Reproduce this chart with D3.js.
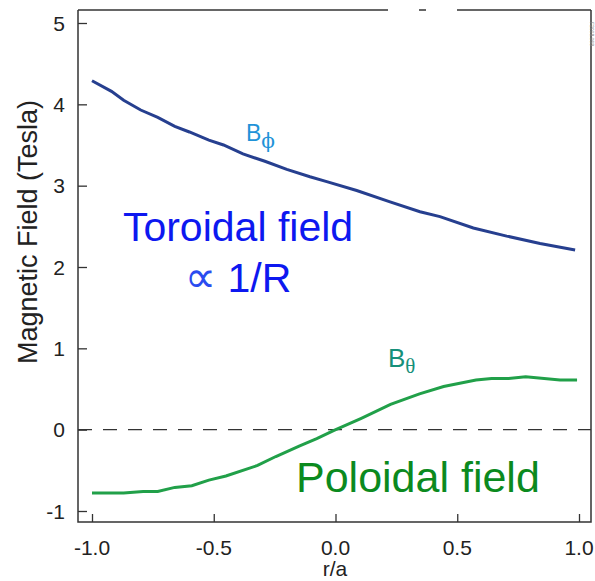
<!DOCTYPE html>
<html>
<head>
<meta charset="utf-8">
<script src="https://cdn.jsdelivr.net/npm/d3@7"></script>
<style>
  body { margin: 0; background: #fff; }
  text { font-family: "Liberation Sans", Arial, sans-serif; }
</style>
</head>
<body>
<div id="chart"></div>
<script>
// values
let rPhi = [-1.0, -0.92, -0.87, -0.80, -0.73, -0.66, -0.60, -0.52, -0.46, -0.38, -0.29, -0.20, -0.105, -0.036, 0.087, 0.224, 0.347, 0.429, 0.566, 0.703, 0.840, 0.984];
let bPhi = [4.29, 4.16, 4.05, 3.93, 3.84, 3.73, 3.66, 3.56, 3.50, 3.39, 3.30, 3.20, 3.11, 3.05, 2.94, 2.80, 2.68, 2.62, 2.48, 2.38, 2.29, 2.21];

let rTheta = [-1.0, -0.87, -0.79, -0.73, -0.66, -0.59, -0.52, -0.45, -0.32, -0.245, -0.147, -0.077, -0.006, 0.106, 0.226, 0.345, 0.444, 0.577, 0.641, 0.711, 0.781, 0.922, 0.992];
let bTheta = [-0.78, -0.78, -0.76, -0.76, -0.71, -0.69, -0.62, -0.57, -0.44, -0.33, -0.20, -0.11, -0.01, 0.14, 0.31, 0.44, 0.53, 0.61, 0.63, 0.63, 0.65, 0.61, 0.61];

let xTicks = [-1.0, -0.5, 0.0, 0.5, 1.0];
let yTicks = [-1, 0, 1, 2, 3, 4, 5];

let width = 595, height = 581;
let frame = { left: 78, right: 591, top: 10, bottom: 522 };

let svg = d3.select("#chart")
    .append("svg")
    .attr("width", width)
    .attr("height", height);

let x = d3.scaleLinear().domain([-1, 1]).range([92, 579]);
let y = d3.scaleLinear().domain([-1, 5]).range([511, 23]);

// dashed zero line
svg.append("line")
    .attr("x1", frame.left).attr("x2", frame.right)
    .attr("y1", y(0)).attr("y2", y(0))
    .attr("stroke", "#333").attr("stroke-width", 1.3)
    .attr("stroke-dasharray", "14,11");

// y axis (ticks inside the frame)
let yAxis = svg.append("g")
    .attr("transform", "translate(" + frame.left + ",0)")
    .call(d3.axisRight(y).tickValues(yTicks).tickSize(9).tickFormat(""));
yAxis.select(".domain").remove();
yAxis.selectAll(".tick line").attr("stroke", "#333").attr("stroke-width", 1.3);

svg.selectAll(".ylab")
    .data(yTicks)
    .enter().append("text")
    .attr("class", "ylab")
    .attr("x", 65)
    .attr("y", d => y(d))
    .attr("dy", "0.36em")
    .attr("text-anchor", "end")
    .attr("font-size", 21)
    .attr("fill", "#222")
    .text(d => d < 0 ? "-" + Math.abs(d) : d);

// x axis (ticks pointing up)
let xAxis = svg.append("g")
    .attr("transform", "translate(0," + frame.bottom + ")")
    .call(d3.axisTop(x).tickValues(xTicks).tickSize(8).tickFormat(""));
xAxis.select(".domain").remove();
xAxis.selectAll(".tick line").attr("stroke", "#333").attr("stroke-width", 1.3);

svg.selectAll(".xlab")
    .data(xTicks)
    .enter().append("text")
    .attr("class", "xlab")
    .attr("x", d => x(d))
    .attr("y", 555)
    .attr("text-anchor", "middle")
    .attr("font-size", 21)
    .attr("fill", "#222")
    .text(d => d < 0 ? "-" + Math.abs(d).toFixed(1) : d.toFixed(1));

// frame: left, bottom, right, and a broken top edge
let frameColor = "#333";
svg.append("path")
    .attr("d", "M" + frame.left + "," + frame.top + "V" + frame.bottom + "H" + frame.right + "V" + frame.top)
    .attr("fill", "none").attr("stroke", frameColor).attr("stroke-width", 1.5);
[[frame.left, 388], [419, 426], [457, frame.right]].forEach(function(s) {
    svg.append("line")
        .attr("x1", s[0]).attr("x2", s[1])
        .attr("y1", frame.top).attr("y2", frame.top)
        .attr("stroke", frameColor).attr("stroke-width", 1.5);
});

// axis titles
svg.append("text")
    .attr("x", 335).attr("y", 576)
    .attr("text-anchor", "middle")
    .attr("font-size", 21)
    .attr("fill", "#222")
    .text("r/a");

svg.append("text")
    .attr("transform", "translate(37,232) rotate(-90)")
    .attr("text-anchor", "middle")
    .attr("font-size", 27)
    .attr("fill", "#222")
    .text("Magnetic Field (Tesla)");

// tiny rotated stamp on the right edge
svg.append("text")
    .attr("transform", "translate(590,22) rotate(90)")
    .attr("font-size", 5)
    .attr("fill", "#888")
    .text("F2008.068");

// data lines
let line = d3.line()
    .x(d => x(d[0]))
    .y(d => y(d[1]));

svg.append("path")
    .datum(d3.zip(rPhi, bPhi))
    .attr("d", line)
    .attr("fill", "none")
    .attr("stroke", "#263f8f")
    .attr("stroke-width", 3);

svg.append("path")
    .datum(d3.zip(rTheta, bTheta))
    .attr("d", line)
    .attr("fill", "none")
    .attr("stroke", "#21a049")
    .attr("stroke-width", 3);

// curve labels
let phiLab = svg.append("text")
    .attr("x", 246).attr("y", 141)
    .attr("font-size", 23)
    .attr("fill", "#1f93d8");
phiLab.append("tspan").text("B");
phiLab.append("tspan")
    .attr("dy", 7).attr("font-size", 20)
    .attr("font-family", "'DejaVu Serif', serif")
    .text("\u03d5");

let thetaLab = svg.append("text")
    .attr("x", 388).attr("y", 367)
    .attr("font-size", 26)
    .attr("fill", "#16907a");
thetaLab.append("tspan").text("B");
thetaLab.append("tspan")
    .attr("dy", 6).attr("font-size", 21)
    .attr("font-family", "'Liberation Serif', serif")
    .text("\u03b8");

// annotations
svg.append("text")
    .attr("x", 238).attr("y", 241)
    .attr("text-anchor", "middle")
    .attr("font-size", 41)
    .attr("fill", "#0d18f0")
    .text("Toroidal field");

let propLab = svg.append("text")
    .attr("x", 238).attr("y", 292)
    .attr("text-anchor", "middle")
    .attr("font-size", 41)
    .attr("fill", "#0d18f0");
propLab.append("tspan")
    .attr("font-family", "'DejaVu Sans', sans-serif")
    .attr("font-size", 44)
    .attr("fill", "#2a4cf0")
    .text("\u221d");
propLab.append("tspan").text(" 1/R");

svg.append("text")
    .attr("x", 296).attr("y", 492)
    .attr("font-size", 43)
    .attr("fill", "#0b8a1e")
    .text("Poloidal field");
</script>
</body>
</html>
